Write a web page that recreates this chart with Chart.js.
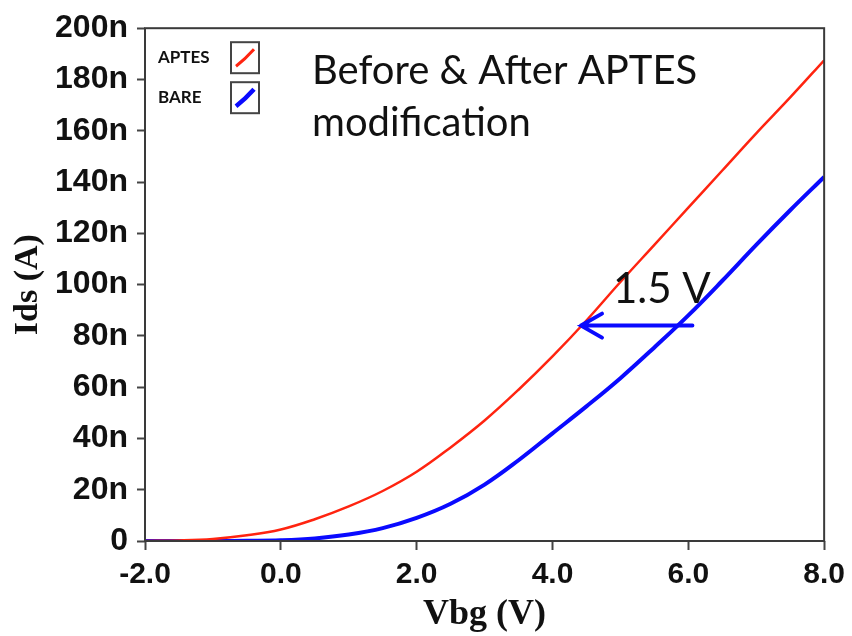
<!DOCTYPE html>
<html>
<head>
<meta charset="utf-8">
<title>Ids vs Vbg</title>
<script src="https://cdn.jsdelivr.net/npm/chart.js@4.4.1/dist/chart.umd.min.js"></script>
<style>
    html, body { margin: 0; padding: 0; background: #fff; }
    canvas { display: block; }
</style>
</head>
<body>
<canvas id="myChart" width="852" height="636"></canvas>
<script>
// Back-gate voltage (V) and drain current (nA)
const vbg = [-2.0, -1.5, -1.0, -0.5, 0.0, 0.5, 1.0, 1.5, 2.0, 2.5, 3.0, 3.5, 4.0, 4.5, 5.0, 5.5, 6.0, 6.5, 7.0, 7.5, 8.0];
const idsAptes = [0, 0.2, 0.8, 2.2, 4.5, 8.5, 13.5, 19.5, 27, 36.5, 47, 59, 72, 86, 101, 115.5, 130, 144.5, 159, 173, 187.5];
const idsBare = [0, 0, 0, 0.1, 0.3, 1, 2.5, 5, 9, 14.5, 22, 31.5, 42, 52.5, 63.5, 75.5, 88, 101.5, 115.5, 129, 142];

const seriesLabels = ['APTES', 'BARE'];
const seriesColors = ['#ff2410', '#0a0aff'];

// Threshold shift arrow (V from, V to, nA) and its label
const shiftArrow = [6.06, 4.42, 84];
const shiftLabel = '1.5 V';
// ZWNJ keeps the "ti" pair from turning into a ligature
const noteLines = ['Before & After APTES', 'modifica\u200Ction'];

function toPoints(ys) {
    return vbg.map((v, i) => ({ x: v, y: ys[i] }));
}

// Frame around the plot, inset legend, notes and arrow
const extras = {
    id: 'extras',
    afterDatasetsDraw(chart) {
        const { ctx, chartArea: a, scales } = chart;
        ctx.save();

        ctx.strokeStyle = '#3a3a3a';
        ctx.lineWidth = 2;
        ctx.strokeRect(a.left, a.top, a.right - a.left, a.bottom - a.top);

        // legend: label then a framed sample line
        chart.data.datasets.forEach((ds, i) => {
            const top = a.top + 14 + i * 40;
            const bx = a.left + 86;
            ctx.font = 'bold 17px Lato';
            ctx.fillStyle = '#111';
            ctx.textBaseline = 'middle';
            ctx.textAlign = 'left';
            ctx.fillText(ds.label, a.left + 13, top + 15);
            ctx.strokeStyle = '#444';
            ctx.lineWidth = 2;
            ctx.strokeRect(bx, top, 28, 31);
            ctx.strokeStyle = ds.borderColor;
            ctx.lineWidth = ds.borderWidth + 0.5;
            ctx.beginPath();
            ctx.moveTo(bx + 5, top + 24);
            ctx.quadraticCurveTo(bx + 14, top + 17, bx + 23, top + 7);
            ctx.stroke();
        });

        ctx.fillStyle = '#111';
        ctx.textBaseline = 'alphabetic';
        ctx.font = '40px Lato';
        noteLines.forEach((t, i) => ctx.fillText(t, a.left + 167, a.top + 56 + i * 52));

        ctx.font = '42px Lato';
        ctx.fillText(shiftLabel, scales.x.getPixelForValue(4.89), scales.y.getPixelForValue(93));

        const x0 = scales.x.getPixelForValue(shiftArrow[0]);
        const x1 = scales.x.getPixelForValue(shiftArrow[1]);
        const y = scales.y.getPixelForValue(shiftArrow[2]);
        ctx.strokeStyle = '#0a0aff';
        ctx.lineWidth = 4;
        ctx.lineCap = 'round';
        ctx.beginPath();
        ctx.moveTo(x0, y);
        ctx.lineTo(x1, y);
        ctx.moveTo(x1 + 21, y - 12);
        ctx.lineTo(x1, y);
        ctx.lineTo(x1 + 21, y + 12);
        ctx.stroke();

        ctx.restore();
    }
};

const ctx = document.getElementById('myChart').getContext('2d');
const myChart = new Chart(ctx, {
    type: 'line',
    data: {
        datasets: [{
            label: seriesLabels[0],
            data: toPoints(idsAptes),
            borderColor: seriesColors[0],
            borderWidth: 2.5,
            pointRadius: 0,
            tension: 0.4
        }, {
            label: seriesLabels[1],
            data: toPoints(idsBare),
            borderColor: seriesColors[1],
            borderWidth: 4,
            pointRadius: 0,
            tension: 0.4
        }]
    },
    options: {
        responsive: false,
        animation: false,
        devicePixelRatio: 1,
        layout: { padding: { top: 22, right: 25, left: 0, bottom: 0 } },
        plugins: {
            legend: { display: false },
            tooltip: { enabled: false }
        },
        scales: {
            x: {
                type: 'linear',
                min: -2,
                max: 8,
                border: { display: false },
                grid: { drawOnChartArea: false, tickLength: 9, tickColor: '#444', tickWidth: 2 },
                ticks: {
                    stepSize: 2,
                    padding: 7,
                    color: '#111',
                    font: { family: 'Liberation Sans', size: 30, weight: 'bold' },
                    callback: v => v.toFixed(1)
                },
                title: {
                    display: true,
                    text: 'Vbg (V)',
                    color: '#111',
                    padding: { top: 0, bottom: 0 },
                    font: { family: 'Liberation Serif', size: 36, weight: 'bold' }
                },
                afterFit: scale => { scale.height = 95; }
            },
            y: {
                min: 0,
                max: 200,
                border: { display: false },
                grid: { drawOnChartArea: false, tickLength: 8, tickColor: '#444', tickWidth: 2 },
                ticks: {
                    stepSize: 20,
                    padding: 9,
                    color: '#111',
                    font: { family: 'Liberation Sans', size: 32, weight: 'bold' },
                    callback: v => v === 0 ? '0' : v + 'n'
                },
                title: {
                    display: true,
                    text: 'Ids (A)',
                    color: '#111',
                    padding: { top: 8, bottom: 0 },
                    font: { family: 'Liberation Serif', size: 34, weight: 'bold' }
                },
                afterFit: scale => { scale.width = 145; }
            }
        }
    },
    plugins: [extras]
});
</script>
</body>
</html>
